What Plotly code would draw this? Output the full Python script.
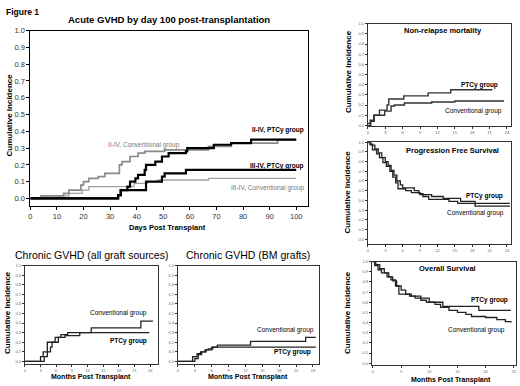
import plotly.graph_objects as go

W, H = 520, 386
FONT = "Liberation Sans, Arial, sans-serif"

# ---------------- data ----------------
# Acute GVHD (days)
acute_c24_x = [0, 4, 12.5, 14.5, 19, 20, 22, 25.5, 28, 33.5, 34.5, 37.5, 40.5, 43, 50.5, 67, 75.5, 93, 100]
acute_c24_y = [0, 0.015, 0.03, 0.05, 0.08, 0.10, 0.12, 0.13, 0.15, 0.20, 0.22, 0.25, 0.27, 0.28, 0.29, 0.31, 0.33, 0.35, 0.35]
acute_p24_x = [0, 33, 34, 36.5, 37.5, 39.5, 40.5, 43, 43.5, 47, 49.5, 52, 58.5, 59, 69, 75.5, 83, 100]
acute_p24_y = [0, 0.02, 0.05, 0.07, 0.10, 0.12, 0.14, 0.17, 0.20, 0.22, 0.25, 0.27, 0.28, 0.30, 0.32, 0.33, 0.35, 0.35]
acute_p34_x = [0, 33, 34, 42, 43.5, 49.5, 50.5, 58.5, 100]
acute_p34_y = [0, 0.02, 0.05, 0.05, 0.10, 0.13, 0.15, 0.17, 0.17]
acute_c34_x = [0, 4, 14.5, 19.5, 22, 39, 44, 48, 67, 100]
acute_c34_y = [0, 0.015, 0.03, 0.05, 0.07, 0.09, 0.10, 0.11, 0.12, 0.12]
acute_xticks = list(range(0, 101, 10))
ci_ticks = [i / 10 for i in range(11)]

# Chronic GVHD, all graft sources (months)
chr_all_conv_x = [0, 3, 3.5, 4.3, 5.8, 6.9, 8.2, 12.7, 22.2, 24.5]
chr_all_conv_y = [0, 0.05, 0.10, 0.20, 0.25, 0.28, 0.30, 0.35, 0.42, 0.42]
chr_all_ptcy_x = [0, 3.7, 4.3, 4.9, 5.2, 6.4, 7.7, 10.5, 23.8]
chr_all_ptcy_y = [0, 0.05, 0.10, 0.15, 0.20, 0.25, 0.27, 0.30, 0.30]

# Chronic GVHD, BM grafts (months)
chr_bm_conv_x = [0, 2.6, 3.4, 4.0, 5.0, 6.0, 7.0, 12.9, 22.7, 24.5]
chr_bm_conv_y = [0, 0.05, 0.08, 0.10, 0.12, 0.15, 0.17, 0.21, 0.25, 0.25]
chr_bm_ptcy_x = [0, 3.0, 3.6, 4.2, 4.8, 5.4, 6.2, 24.5]
chr_bm_ptcy_y = [0, 0.03, 0.07, 0.10, 0.12, 0.13, 0.15, 0.15]
month_ticks = list(range(0, 25, 3))

# Non-relapse mortality
nrm_ptcy_x = [0, 0.4, 1.0, 2.0, 3.3, 3.6, 6.2, 10.4, 14.3, 21.5]
nrm_ptcy_y = [0.02, 0.05, 0.10, 0.15, 0.20, 0.26, 0.29, 0.32, 0.35, 0.35]
nrm_conv_x = [0, 0.5, 1.1, 2.9, 4.0, 4.6, 6.3, 11, 15, 23.5]
nrm_conv_y = [0.0, 0.04, 0.10, 0.14, 0.19, 0.20, 0.22, 0.23, 0.24, 0.24]

# Progression free survival
pfs_ptcy_x = [0, 0.5, 1.2, 1.8, 2.4, 3.0, 3.5, 4.0, 4.5, 5.0, 5.6, 6.0, 8.0, 8.8, 9.5, 10.5, 14, 15.5, 24.5]
pfs_ptcy_y = [1.0, 0.97, 0.93, 0.89, 0.84, 0.80, 0.76, 0.71, 0.66, 0.60, 0.56, 0.53, 0.50, 0.47, 0.44, 0.41, 0.39, 0.37, 0.37]
pfs_conv_x = [0, 0.3, 0.8, 1.5, 2.0, 2.6, 3.2, 3.8, 4.3, 4.8, 5.2, 6.5, 7.5, 9.0, 11, 13, 16, 18.5, 24.5]
pfs_conv_y = [1.0, 0.98, 0.92, 0.88, 0.84, 0.79, 0.75, 0.70, 0.64, 0.58, 0.52, 0.50, 0.48, 0.46, 0.44, 0.42, 0.39, 0.34, 0.34]

# Overall survival
os_ptcy_x = [0, 0.5, 1.2, 2.0, 2.8, 3.5, 4.2, 5.0, 5.8, 6.8, 8.5, 10, 12.4, 18.8, 24.5]
os_ptcy_y = [1.0, 0.97, 0.93, 0.89, 0.85, 0.81, 0.76, 0.72, 0.68, 0.66, 0.64, 0.60, 0.56, 0.52, 0.52]
os_conv_x = [0, 0.3, 0.9, 1.5, 2.5, 3.2, 4.0, 4.6, 6.5, 7.5, 8.5, 9.5, 11, 12, 13.5, 15, 16.5, 17.5, 20, 22, 23.5, 24.5]
os_conv_y = [1.0, 0.96, 0.92, 0.89, 0.85, 0.82, 0.76, 0.68, 0.66, 0.64, 0.62, 0.60, 0.58, 0.55, 0.52, 0.50, 0.48, 0.46, 0.45, 0.43, 0.41, 0.40]
os_xticks = list(range(0, 26, 5))

# ---------------- figure ----------------
fig = go.Figure()


def dom_x(l, r):
    return [l / W, r / W]


def dom_y(t, b):
    return [1 - b / H, 1 - t / H]


def px(x):
    return x / W


def py(y):
    return 1 - y / H


def step(x, y, ax, color, width):
    fig.add_trace(go.Scatter(x=x, y=y, mode="lines", line=dict(shape="hv", color=color, width=width),
                             xaxis="x" + ax, yaxis="y" + ax, showlegend=False, hoverinfo="skip"))


# main acute panel
step(acute_c34_x, acute_c34_y, "", "#a0a0a0", 1.3)
step(acute_c24_x, acute_c24_y, "", "#8a8a8a", 1.7)
step(acute_p34_x, acute_p34_y, "", "#000000", 2.2)
step(acute_p24_x, acute_p24_y, "", "#000000", 2.2)

step(chr_all_conv_x, chr_all_conv_y, "2", "#222", 1.3)
step(chr_all_ptcy_x, chr_all_ptcy_y, "2", "#222", 1.3)
step(chr_bm_conv_x, chr_bm_conv_y, "3", "#222", 1.3)
step(chr_bm_ptcy_x, chr_bm_ptcy_y, "3", "#222", 1.3)
step(nrm_ptcy_x, nrm_ptcy_y, "4", "#333", 1.4)
step(nrm_conv_x, nrm_conv_y, "4", "#333", 1.4)
step(pfs_ptcy_x, pfs_ptcy_y, "5", "#222", 1.3)
step(pfs_conv_x, pfs_conv_y, "5", "#222", 1.3)
step(os_ptcy_x, os_ptcy_y, "6", "#222", 1.3)
step(os_conv_x, os_conv_y, "6", "#222", 1.3)


def axes(xd, yd, xr, yr, xt, tick_size, tick_color, linecol):
    common = dict(showline=True, mirror=True, linecolor=linecol, linewidth=1, showgrid=False,
                  zeroline=False, ticks="outside", ticklen=3, tickcolor=linecol,
                  tickfont=dict(size=tick_size, color=tick_color, family=FONT))
    xa = dict(common, domain=xd, range=xr, tickvals=xt)
    ya = dict(common, domain=yd, range=yr, tickvals=ci_ticks, tickformat=".1f")
    return xa, ya


specs = {
    "": (dom_x(28.5, 308), dom_y(27, 205), [0, 104.5], [-0.047, 1.0], acute_xticks, 7.5, "#333", "#000"),
    "2": (dom_x(23, 157), dom_y(265, 365), [0, 25.5], [-0.03, 1.0], month_ticks, 4, "#666", "#333"),
    "3": (dom_x(177, 319), dom_y(265, 365), [0, 25.1], [-0.03, 1.0], month_ticks, 4, "#666", "#333"),
    "4": (dom_x(368, 512), dom_y(20, 124), [0, 24.7], [-0.01, 1.0], month_ticks, 4, "#666", "#333"),
    "5": (dom_x(368, 512), dom_y(140, 243), [0, 24.7], [-0.048, 1.0], month_ticks, 4, "#666", "#333"),
    "6": (dom_x(372, 517), dom_y(261, 366), [-0.2, 25.4], [-0.02, 1.0], os_xticks, 4, "#666", "#333"),
}

layout_axes = {}
for k, (xd, yd, xr, yr, xt, ts, tc, lc) in specs.items():
    xa, ya = axes(xd, yd, xr, yr, xt, ts, tc, lc)
    xa["anchor"] = "y" + k
    ya["anchor"] = "x" + k
    if k != "":
        xa["ticklen"] = 2
        ya["ticklen"] = 2
    layout_axes["xaxis" + k] = xa
    layout_axes["yaxis" + k] = ya

anns = []


def ann(x, y, text, size, bold=False, color="#000", xanchor="center", angle=0):
    t = "<b>%s</b>" % text if bold else text
    anns.append(dict(x=px(x), y=py(y), xref="paper", yref="paper", text=t, showarrow=False,
                     xanchor=xanchor, yanchor="middle", textangle=angle,
                     font=dict(size=size, color=color, family=FONT)))


ann(2, 8, "Figure 1", 8.5, True, xanchor="left")
ann(168, 16, "Acute GVHD by day 100 post-transplantation", 9.5, True)
ann(8, 112, "Cumulative Incidence", 8, True, angle=-90)
ann(166, 226, "Days Post Transplant", 7.5, True)
ann(143, 143, "II-IV, Conventional group", 6.5, False, "#777")
ann(306, 128, "II-IV, PTCy group", 6.5, True, xanchor="right")
ann(306, 164, "III-IV, PTCy group", 6.5, True, xanchor="right")
ann(306, 186, "III-IV, Conventional group", 6.5, False, "#777", xanchor="right")

ann(90, 254, "Chronic GVHD (all graft sources)", 10.5)
ann(6, 312, "Cumulative Incidence", 8, True, angle=-90)
ann(90, 378, "Months Post Transplant", 7, True)
ann(148, 313, "Conventional group", 6.5, xanchor="right")
ann(148, 341, "PTCy group", 6.5, True, xanchor="right")

ann(247, 254, "Chronic GVHD (BM grafts)", 10.5)
ann(247, 378, "Months Post Transplant", 7, True)
ann(316, 330, "Conventional group", 6.5, xanchor="right")
ann(313, 353, "PTCy group", 6.5, True, xanchor="right")

ann(444, 27, "Non-relapse mortality", 7.5, True)
ann(348, 68, "Cumulative Incidence", 8, True, angle=-90)
ann(501, 82, "PTCy group", 6.5, True, xanchor="right")
ann(505, 108, "Conventional group", 6.5, xanchor="right")

ann(453, 148, "Progression Free Survival", 7.5, True)
ann(348, 190, "Cumulative Incidence", 8, True, angle=-90)
ann(506, 195, "PTCy group", 6.5, True, xanchor="right")
ann(507, 212, "Conventional group", 6.5, xanchor="right")

ann(448, 268, "Overall Survival", 7.5, True)
ann(348, 312, "Cumulative Incidence", 8, True, angle=-90)
ann(511, 300, "PTCy group", 6.5, True, xanchor="right")
ann(508, 330, "Conventional group", 6.5, xanchor="right")
ann(452, 381, "Months Post Transplant", 7, True)

fig.update_layout(width=W, height=H, margin=dict(l=0, r=0, t=0, b=0),
                  paper_bgcolor="white", plot_bgcolor="white",
                  font=dict(family=FONT), annotations=anns, **layout_axes)

fig.write_html("out.html", config={"displayModeBar": False, "staticPlot": True},
               post_script="document.body.style.margin='0px';document.body.style.padding='0px';"
                           "document.documentElement.style.overflow='hidden';")
